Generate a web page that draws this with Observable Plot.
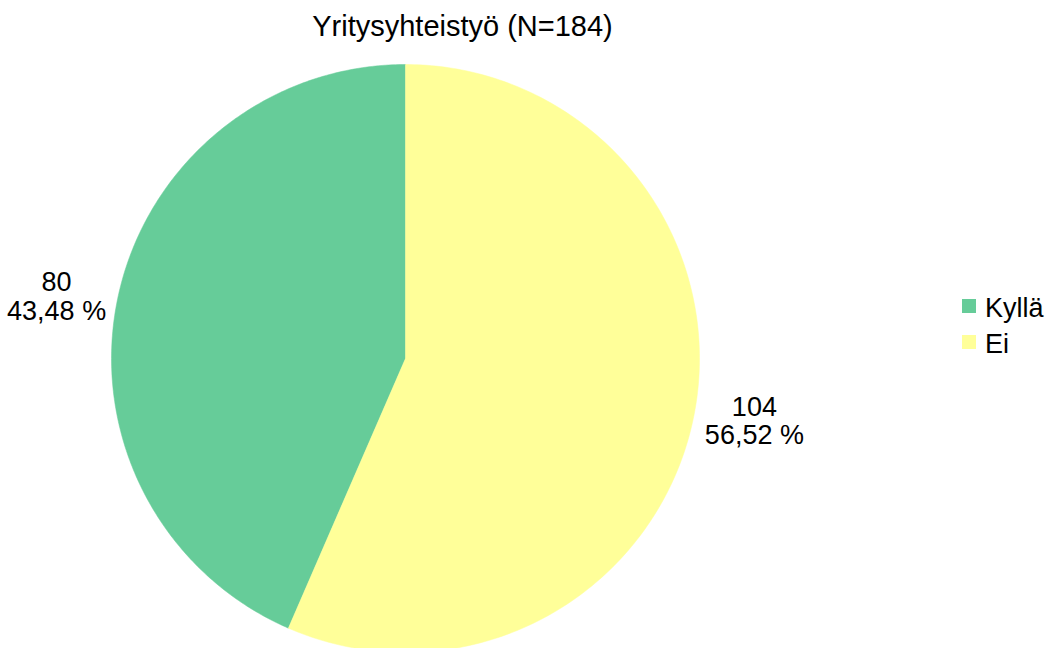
<!DOCTYPE html>
<html>
<head>
<meta charset="utf-8">
<script src="https://cdn.jsdelivr.net/npm/d3@7"></script>
<script src="https://cdn.jsdelivr.net/npm/@observablehq/plot@0.6"></script>
<style>
  html, body { margin: 0; padding: 0; background: #fff; }
  body { width: 1052px; height: 648px; position: relative; overflow: hidden; font-family: "Liberation Sans", Arial, sans-serif; color: #000; }
  #title { position: absolute; left: 0; width: 925px; top: 10px; text-align: center; font-size: 29px; line-height: 32px; white-space: nowrap; }
  #chart { position: absolute; left: 0; top: 50px; }
  .leg { position: absolute; font-size: 27px; line-height: 30px; white-space: nowrap; }
  .sw { position: absolute; width: 14px; height: 14px; }
</style>
</head>
<body>
<div id="title"></div>
<div id="chart"></div>
<div id="legend"></div>
<script>
const title = "Yritysyhteistyö (N=184)";
const categories = ["Kyllä", "Ei"];
const values = [80, 104];
const colors = ["#66cc99", "#ffff99"];

document.getElementById("title").textContent = title;

const total = d3.sum(values);
const table = categories.map((c, i) => ({category: c, value: values[i], color: colors[i]}));

// Counterclockwise from 12 o'clock (d3 angle: 0 at top, clockwise positive)
const arcs = d3.pie().sort(null).value(d => d.value).startAngle(0).endAngle(-2 * Math.PI)(table);

const slicePoints = arcs.map(a => {
  const pts = [{x: 0, y: 0}];
  const n = 240;
  for (let k = 0; k <= n; k++) {
    const t = a.startAngle + (a.endAngle - a.startAngle) * k / n;
    pts.push({x: Math.sin(t), y: Math.cos(t)});
  }
  pts.push({x: 0, y: 0});
  return {data: a.data, pts};
});

const LABEL_FONT = 27;
const RADIUS_PX = 294;
const ctx = document.createElement("canvas").getContext("2d");
ctx.font = LABEL_FONT + "px 'Liberation Sans'";

const fmtPct = v => (v * 100).toFixed(2).replace(".", ",") + " %";
const labelR = 1.04;
const labels = arcs.map(a => {
  const m = (a.startAngle + a.endAngle) / 2;
  const lines = [String(a.data.value), fmtPct(a.data.value / total)];
  const w = d3.max(lines, l => ctx.measureText(l).width);
  const sx = Math.sin(m);
  return {
    x: labelR * sx + Math.sign(sx) * (w / 2) / RADIUS_PX,
    y: labelR * Math.cos(m),
    text: lines.join("\n")
  };
});

const chart = Plot.plot({
  width: 1052,
  height: 598,
  margin: 0,
  style: {fontFamily: "Liberation Sans, Arial, sans-serif", color: "#000", background: "transparent", overflow: "visible"},
  x: {domain: [-1, 1], range: [405 - RADIUS_PX, 405 + RADIUS_PX], axis: null},
  y: {domain: [-1, 1], range: [308 + RADIUS_PX, 308 - RADIUS_PX], axis: null},
  marks: [
    ...slicePoints.map(s => Plot.line(s.pts, {x: "x", y: "y", fill: s.data.color, stroke: s.data.color, strokeWidth: 0.5, curve: "linear"})),
    Plot.text(labels, {x: "x", y: "y", text: "text", fontSize: LABEL_FONT, lineHeight: 1.07, textAnchor: "middle", fill: "#000"})
  ]
});
document.getElementById("chart").appendChild(chart);

const legend = document.getElementById("legend");
categories.forEach((c, i) => {
  const sw = document.createElement("div");
  sw.className = "sw";
  sw.style.left = "962px";
  sw.style.top = (299 + i * 36) + "px";
  sw.style.background = colors[i];
  legend.appendChild(sw);
  const t = document.createElement("div");
  t.className = "leg";
  t.style.left = "985px";
  t.style.top = (293 + i * 36) + "px";
  t.textContent = c;
  legend.appendChild(t);
});
</script>
</body>
</html>
